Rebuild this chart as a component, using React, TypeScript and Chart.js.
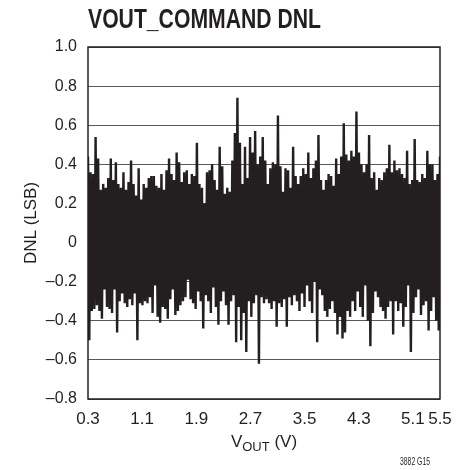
import React, { useEffect, useRef } from "react";
import { Chart, registerables } from "chart.js";

Chart.register(...registerables);

const FONT = '"Liberation Sans", Arial, Helvetica, sans-serif';
const INK = "#231f20";

const chartTitle = "VOUT_COMMAND DNL";
const yAxisTitle = "DNL (LSB)";
const xTitleMain = "V";
const xTitleSub = "OUT";
const xTitleTail = " (V)";
const footnote = "3882 G15";

const xMin = 0.3;
const xMax = 5.5;
const yMin = -0.8;
const yMax = 1.0;
const yStep = 0.2;
const xTickValues = [0.3, 1.1, 1.9, 2.7, 3.5, 4.3, 5.1, 5.5];

// Upper excursions of the DNL trace, read left to right
const peaks = [
  0.44, 0.36, 0.35, 0.54, 0.43, 0.27, 0.30, 0.28, 0.33, 0.43,
  0.32, 0.41, 0.30, 0.28, 0.36, 0.27, 0.31, 0.42, 0.30, 0.24,
  0.38, 0.22, 0.30, 0.28, 0.33, 0.34, 0.34, 0.29, 0.28, 0.35,
  0.27, 0.37, 0.43, 0.35, 0.32, 0.46, 0.41, 0.31, 0.36, 0.37,
  0.30, 0.35, 0.34, 0.51, 0.30, 0.28, 0.20, 0.36, 0.37, 0.40,
  0.32, 0.27, 0.49, 0.39, 0.25, 0.28, 0.26, 0.42, 0.56, 0.74,
  0.51, 0.30, 0.49, 0.33, 0.54, 0.46, 0.57, 0.40, 0.44, 0.54,
  0.42, 0.30, 0.38, 0.41, 0.40, 0.65, 0.39, 0.26, 0.38, 0.37,
  0.28, 0.49, 0.34, 0.30, 0.34, 0.38, 0.35, 0.46, 0.33, 0.38,
  0.42, 0.55, 0.32, 0.27, 0.32, 0.35, 0.34, 0.29, 0.43, 0.35,
  0.44, 0.61, 0.45, 0.42, 0.47, 0.44, 0.67, 0.46, 0.40, 0.36,
  0.40, 0.55, 0.33, 0.36, 0.27, 0.33, 0.32, 0.36, 0.38, 0.50,
  0.36, 0.42, 0.37, 0.38, 0.35, 0.33, 0.47, 0.30, 0.32, 0.53,
  0.32, 0.31, 0.35, 0.33, 0.47, 0.40, 0.40, 0.32, 0.35, 0.44,
];

// Lower excursions of the DNL trace, read left to right
const troughs = [
  -0.50, -0.35, -0.34, -0.32, -0.35, -0.39, -0.24, -0.33, -0.34, -0.36,
  -0.24, -0.46, -0.30, -0.26, -0.31, -0.33, -0.29, -0.32, -0.26, -0.50,
  -0.31, -0.32, -0.30, -0.31, -0.28, -0.36, -0.22, -0.38, -0.41, -0.33,
  -0.34, -0.39, -0.29, -0.24, -0.37, -0.35, -0.32, -0.30, -0.28, -0.19,
  -0.29, -0.31, -0.34, -0.25, -0.30, -0.44, -0.27, -0.30, -0.36, -0.23,
  -0.33, -0.42, -0.30, -0.25, -0.32, -0.42, -0.30, -0.27, -0.51, -0.33,
  -0.50, -0.36, -0.56, -0.30, -0.38, -0.31, -0.27, -0.62, -0.28, -0.31,
  -0.29, -0.31, -0.34, -0.30, -0.43, -0.31, -0.33, -0.29, -0.43, -0.28,
  -0.32, -0.27, -0.30, -0.35, -0.26, -0.33, -0.22, -0.30, -0.36, -0.20,
  -0.51, -0.24, -0.27, -0.35, -0.38, -0.34, -0.30, -0.36, -0.47, -0.38,
  -0.49, -0.46, -0.35, -0.38, -0.30, -0.35, -0.25, -0.33, -0.38, -0.22,
  -0.40, -0.53, -0.36, -0.25, -0.28, -0.33, -0.35, -0.39, -0.33, -0.30,
  -0.47, -0.30, -0.35, -0.31, -0.43, -0.33, -0.22, -0.56, -0.36, -0.28,
  -0.24, -0.37, -0.32, -0.30, -0.45, -0.35, -0.28, -0.40, -0.45,
];

function buildSeries() {
  const n = peaks.length;
  const step = (xMax - xMin) / (n - 1);
  const pts: { x: number; y: number }[] = [];
  for (let i = 0; i < n; i++) {
    pts.push({ x: xMin + i * step, y: peaks[i] });
    if (i < troughs.length) pts.push({ x: xMin + (i + 0.5) * step, y: troughs[i] });
  }
  return pts;
}

function fitText(ctx: CanvasRenderingContext2D, text: string, x: number, y: number, width: number) {
  const w = ctx.measureText(text).width;
  ctx.save();
  ctx.translate(x, y);
  ctx.scale(width / w, 1);
  ctx.fillText(text, 0, 0);
  ctx.restore();
}

const decorPlugin = {
  id: "decor",
  afterDraw(chart: any) {
    const { ctx, chartArea } = chart;
    const { left, right, top, bottom } = chartArea;
    ctx.save();
    // frame
    ctx.strokeStyle = INK;
    ctx.lineWidth = 1.5;
    ctx.strokeRect(left, top, right - left, bottom - top);
    ctx.fillStyle = INK;
    // title (condensed bold)
    ctx.font = `bold 28px ${FONT}`;
    ctx.textAlign = "left";
    ctx.textBaseline = "alphabetic";
    fitText(ctx, chartTitle, left, top - 19, 233);
    // y title
    ctx.save();
    ctx.translate(31, (top + bottom) / 2);
    ctx.rotate(-Math.PI / 2);
    ctx.font = `17px ${FONT}`;
    ctx.textAlign = "center";
    ctx.textBaseline = "middle";
    ctx.fillText(yAxisTitle, 0, 0);
    ctx.restore();
    // x title with subscript
    const mainFont = `17px ${FONT}`;
    const subFont = `13px ${FONT}`;
    ctx.font = mainFont;
    const wV = ctx.measureText(xTitleMain).width;
    const wTail = ctx.measureText(xTitleTail).width;
    ctx.font = subFont;
    const wSub = ctx.measureText(xTitleSub).width;
    const total = wV + wSub + wTail;
    let x = (left + right) / 2 - total / 2;
    const base = bottom + 48;
    ctx.textAlign = "left";
    ctx.textBaseline = "alphabetic";
    ctx.font = mainFont;
    ctx.fillText(xTitleMain, x, base);
    x += wV;
    ctx.font = subFont;
    ctx.fillText(xTitleSub, x, base + 4);
    x += wSub;
    ctx.font = mainFont;
    ctx.fillText(xTitleTail, x, base);
    // footnote (condensed)
    ctx.font = `10px ${FONT}`;
    fitText(ctx, footnote, right - 40, bottom + 66, 30);
    ctx.restore();
  },
};

export default function App() {
  const ref = useRef<HTMLCanvasElement | null>(null);
  useEffect(() => {
    if (!ref.current) return;
    const chart = new Chart(ref.current, {
      type: "line",
      data: {
        datasets: [
          {
            data: buildSeries(),
            borderColor: INK,
            borderWidth: 2.4,
            pointRadius: 0,
            tension: 0,
            fill: false,
          },
        ],
      },
      options: {
        animation: false,
        responsive: false,
        parsing: false as any,
        layout: { padding: { left: 0, top: 47, right: 27, bottom: 0 } },
        plugins: { legend: { display: false }, tooltip: { enabled: false }, title: { display: false } },
        scales: {
          x: {
            type: "linear",
            min: xMin,
            max: xMax,
            afterBuildTicks: (scale: any) => {
              scale.ticks = xTickValues.map((v) => ({ value: v }));
            },
            afterFit: (scale: any) => {
              scale.height = 71;
            },
            grid: { display: false, drawTicks: false },
            border: { display: false },
            ticks: {
              autoSkip: false,
              maxRotation: 0,
              minRotation: 0,
              padding: 10,
              color: INK,
              font: { family: FONT, size: 17 },
              callback: (v: any) => Number(v).toFixed(1),
            },
          },
          y: {
            type: "linear",
            min: yMin,
            max: yMax,
            afterFit: (scale: any) => {
              scale.width = 88;
            },
            grid: { color: "#58595b", lineWidth: 1, drawTicks: false },
            border: { display: false },
            ticks: {
              stepSize: yStep,
              padding: 11,
              color: INK,
              font: { family: FONT, size: 16 },
              callback: (v: any) => {
                const n = Number(v);
                if (Math.abs(n) < 1e-9) return "0";
                return n < 0 ? "\u2013" + Math.abs(n).toFixed(1) : n.toFixed(1);
              },
            },
          },
        },
      },
      plugins: [decorPlugin],
    });
    return () => chart.destroy();
  }, []);
  return (
    <div style={{ position: "absolute", left: 0, top: 0, width: 467, height: 470, background: "#fff" }}>
      <canvas ref={ref} width={467} height={470} style={{ display: "block" }} />
    </div>
  );
}
